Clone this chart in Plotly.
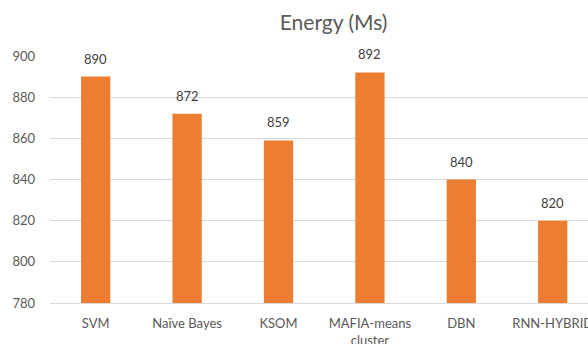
import plotly.graph_objects as go

categories = ["SVM", "Naïve Bayes", "KSOM", "MAFIA-means<br>cluster", "DBN", "RNN-HYBRID"]
energy = [890, 872, 859, 892, 840, 820]
y_ticks = [780, 800, 820, 840, 860, 880, 900]
y_floor = 780

BAR = "#ED7D31"
GRID = "#D9D9D9"
TXT = "#595959"
FONT = "Lato, 'Liberation Sans', sans-serif"

fig = go.Figure(
    go.Bar(
        x=categories,
        y=[v - y_floor for v in energy],
        base=y_floor,
        marker=dict(color=BAR, line=dict(width=0)),
        width=0.32,
        hoverinfo="skip",
    )
)

for c, v in zip(categories, energy):
    fig.add_annotation(
        x=c, y=v, text=str(v), showarrow=False, yanchor="bottom", yshift=8,
        font=dict(family=FONT, size=13, color="#404040"),
    )

fig.update_layout(
    width=588,
    height=344,
    margin=dict(l=50, r=0, t=56, b=41, autoexpand=False),
    paper_bgcolor="white",
    plot_bgcolor="white",
    showlegend=False,
    title=dict(
        text="Energy (Ms)", x=310 / 588, xanchor="center", y=1 - 23 / 344, yanchor="middle",
        xref="paper", yref="container", font=dict(family=FONT, size=21, color=TXT),
    ),
    font=dict(family=FONT, size=13, color=TXT),
)
fig.update_xaxes(
    range=[-0.5, 5.386],
    automargin=False,
    showgrid=False,
    showline=True,
    linecolor=GRID,
    linewidth=1,
    ticks="",
    tickfont=dict(family=FONT, size=13, color=TXT),
    ticklabelstandoff=8,
)
fig.update_yaxes(
    range=[780, 900],
    automargin=False,
    tickvals=y_ticks,
    showgrid=True,
    gridcolor=GRID,
    gridwidth=1,
    zeroline=False,
    showline=False,
    ticks="",
    tickfont=dict(family=FONT, size=13, color=TXT),
    ticklabelstandoff=14,
)

fig.write_html("out.html")
